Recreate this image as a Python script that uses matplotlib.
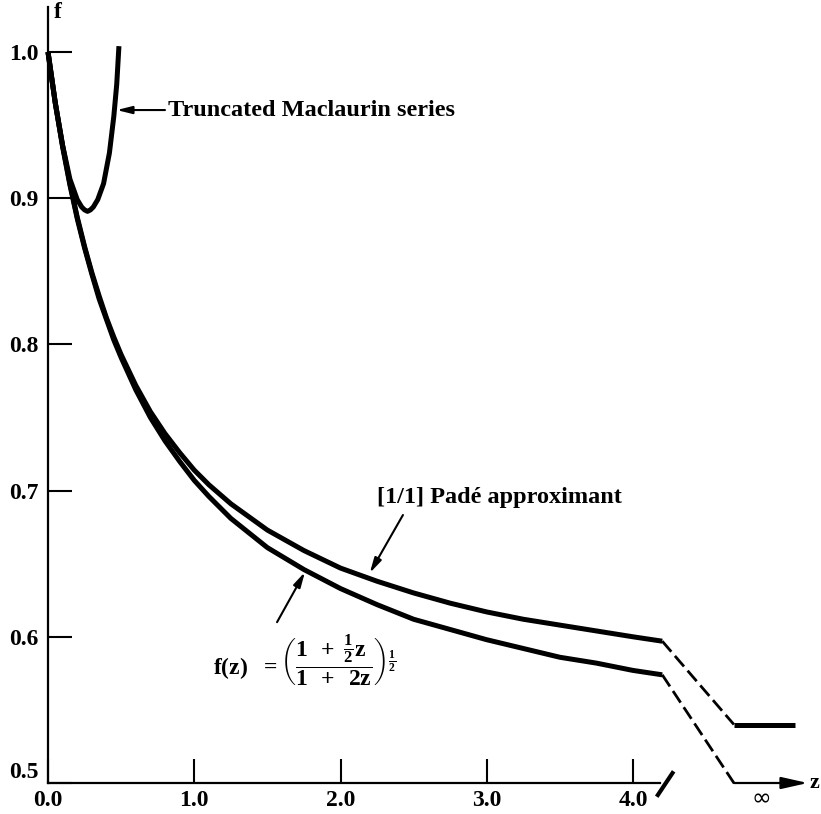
import matplotlib
matplotlib.use('Agg')
import matplotlib.pyplot as plt

plt.rcParams['font.family'] = ['Liberation Serif', 'DejaVu Serif']
plt.rcParams['font.weight'] = 'bold'
plt.rcParams['mathtext.fontset'] = 'custom'
plt.rcParams['mathtext.rm'] = 'Liberation Serif:bold'
plt.rcParams['mathtext.it'] = 'Liberation Serif:italic:bold'
plt.rcParams['mathtext.bf'] = 'Liberation Serif:bold'

# values
z = [0, 0.05, 0.1, 0.15, 0.2, 0.25, 0.3, 0.35, 0.4, 0.45, 0.5, 0.6, 0.7,
     0.8, 0.9, 1.0, 1.1, 1.25, 1.5, 1.75, 2.0, 2.25, 2.5, 2.75, 3.0, 3.25,
     3.5, 3.75, 4.0, 4.2]
f_exact = [1.0, 0.965, 0.935, 0.909, 0.886, 0.866, 0.848, 0.831, 0.817,
           0.803, 0.791, 0.769, 0.750, 0.734, 0.720, 0.707, 0.696, 0.681,
           0.661, 0.646, 0.633, 0.622, 0.612, 0.605, 0.598, 0.592, 0.586,
           0.582, 0.577, 0.574]
f_pade = [1.0, 0.965, 0.936, 0.910, 0.887, 0.867, 0.849, 0.833, 0.818,
          0.805, 0.793, 0.772, 0.754, 0.739, 0.726, 0.714, 0.704, 0.691,
          0.673, 0.659, 0.647, 0.638, 0.630, 0.623, 0.617, 0.612, 0.608,
          0.604, 0.600, 0.597]

z_mac = [0, 0.05, 0.1, 0.15, 0.2, 0.23, 0.25, 0.27, 0.29, 0.31, 0.34,
         0.38, 0.42, 0.45, 0.47, 0.485]
f_mac = [1.0, 0.965, 0.936, 0.913, 0.899, 0.894, 0.892, 0.891, 0.892,
         0.894, 0.899, 0.910, 0.931, 0.956, 0.978, 1.004]

f_exact_inf = 0.50
f_pade_inf = 0.54

xticks = [0, 1, 2, 3, 4]
xlabels = ['0.0', '1.0', '2.0', '3.0', '4.0']
yticks = [0.5, 0.6, 0.7, 0.8, 0.9, 1.0]
ylabels = ['0.5', '0.6', '0.7', '0.8', '0.9', '1.0']

# layout of the broken axis
z_break = 4.185
z_inf = 4.69
z_pade_end = 5.11
z_arrow_end = 5.195

FS = 17
LW = 3.6

fig = plt.figure(figsize=(8.21, 8.14), dpi=100)
ax = fig.add_axes([48/821, 31/814, 773/821, 783/814])
ax.set_xlim(0, 773/146.25)
ax.set_ylim(0.5, 0.5 + 783/1462)

for s in ['top', 'right']:
    ax.spines[s].set_visible(False)
ax.spines['left'].set_bounds(0.5, 1.031)
ax.spines['bottom'].set_bounds(0, z_break)
ax.spines['left'].set_linewidth(1.6)
ax.spines['bottom'].set_linewidth(1.6)

ax.set_xticks(xticks, xlabels)
ax.set_yticks(yticks, ylabels)
ax.tick_params(direction='in', length=17, width=1.5, labelsize=FS)
ax.tick_params(axis='x', pad=5)
ax.tick_params(axis='y', pad=7)
ax.get_yticklabels()[0].set_va('bottom')

ax.plot(z, f_exact, color='black', lw=LW, solid_capstyle='butt', clip_on=False)
ax.plot(z, f_pade, color='black', lw=LW, solid_capstyle='butt', clip_on=False)
ax.plot(z_mac, f_mac, color='black', lw=LW, solid_capstyle='butt', clip_on=False)

# dashed jumps to z = infinity
ax.plot([z[-1], z_inf], [f_exact[-1], f_exact_inf], color='black', lw=2,
        ls=(0, (5, 2)), clip_on=False)
ax.plot([z[-1], z_inf], [f_pade[-1], f_pade_inf], color='black', lw=2,
        ls=(0, (5, 2)), clip_on=False)
ax.plot([z_inf, z_pade_end], [f_pade_inf, f_pade_inf], color='black', lw=LW,
        solid_capstyle='butt', clip_on=False)

# axis break mark and continuation to infinity
ax.plot([z_break - 0.015, z_break + 0.085], [0.4918, 0.5068], color='black',
        lw=3, clip_on=False)
ax.annotate('', xy=(z_arrow_end, 0.5), xytext=(z_inf, 0.5),
            arrowprops=dict(arrowstyle='-|>,head_length=0.8,head_width=0.18',
                            mutation_scale=20, lw=1.6, color='black',
                            shrinkA=0, shrinkB=0),
            annotation_clip=False)
ax.text(z_arrow_end + 0.01, 0.5, 'z', fontsize=FS - 1, va='center', ha='left')
ax.text(4.88, 0.4897, '\u221e', fontsize=FS, va='center', ha='center',
        family=['DejaVu Sans'], weight='normal')
ax.text(0.068, 1.0267, 'f', fontsize=FS, va='center', ha='center')

arrow = dict(arrowstyle='-|>,head_length=0.6,head_width=0.15',
             mutation_scale=15, lw=1.5, color='black', shrinkA=0, shrinkB=0)

ax.annotate('', xy=(0.47, 0.9603), xytext=(0.80, 0.9603), arrowprops=arrow)
ax.text(0.82, 0.9603, 'Truncated Maclaurin series', fontsize=FS + 0.5,
        va='center', ha='left')

ax.annotate('', xy=(2.20, 0.6436), xytext=(2.427, 0.6833), arrowprops=arrow)
ax.text(2.25, 0.6956, '[1/1] Padé approximant', fontsize=FS + 0.5,
        va='center', ha='left')

ax.annotate('', xy=(1.757, 0.6443), xytext=(1.566, 0.610), arrowprops=arrow)
ax.text(1.128, 0.584,
        r'$\mathrm{f(z)}\ \ =\left(\dfrac{1\;\;+\;\frac{1}{2}\mathrm{z}\;}'
        r'{1\;\;+\;\;2\mathrm{z}}\right)^{\frac{1}{2}}$',
        fontsize=FS, va='center', ha='left')

fig.savefig('out.png', dpi=100)
